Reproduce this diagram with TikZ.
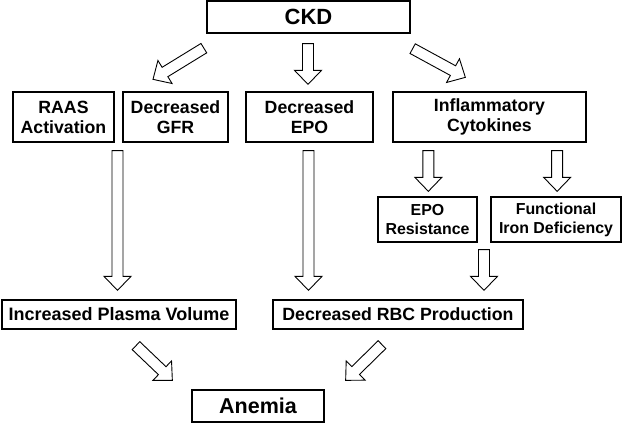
\documentclass[tikz,border=0pt]{standalone}
\usepackage{fontspec}
\setmainfont{Liberation Sans}
\usetikzlibrary{calc}
\tikzset{
  box/.style={draw, line width=1.3pt, inner sep=0pt, align=center,
    font=\bfseries\fontsize{17.7}{20}\selectfont},
  bigbox/.style={box, font=\bfseries\fontsize{22}{24}\selectfont},
  smallbox/.style={box, font=\bfseries\fontsize{15.9}{19}\selectfont},
  barrow/.style={draw=black, fill=white, line width=0.9pt, line join=miter,
    to path={let \p1=(\tikztostart), \p2=(\tikztotarget),
      \n1={atan2(\y2-\y1,\x2-\x1)}, \n2={veclen(\x2-\x1,\y2-\y1)-14} in
      ($(\p1)+({\n1+90}:5.5)$) -- ($(\p1)+(\n1:\n2)+({\n1+90}:5.5)$)
      -- ($(\p1)+(\n1:\n2)+({\n1+90}:13.5)$) -- (\p2)
      -- ($(\p1)+(\n1:\n2)+({\n1-90}:13.5)$) -- ($(\p1)+(\n1:\n2)+({\n1-90}:5.5)$)
      -- ($(\p1)+({\n1-90}:5.5)$) -- cycle}}
}
\begin{document}
\begin{tikzpicture}[x=1pt,y=1pt]
\fill[white] (0,0) rectangle (622,-423);
\useasboundingbox (0,0) rectangle (622,-423);

\node[bigbox, minimum width=203, minimum height=32] (ckd) at (308.5,-17) {CKD};
\node[box, minimum width=101, minimum height=50] (raas) at (63.5,-117) {RAAS\\Activation};
\node[box, minimum width=105, minimum height=50] (gfr) at (175.5,-117) {Decreased\\GFR};
\node[box, minimum width=127, minimum height=50] (depo) at (309.5,-117) {Decreased\\EPO};
\node[box, minimum width=193, minimum height=50] (infl) at (489.5,-117) {Inflammatory\\Cytokines};
\node[smallbox, minimum width=99, minimum height=45] (epores) at (427.5,-219.5) {EPO\\Resistance};
\node[smallbox, minimum width=130, minimum height=45] (fid) at (556,-219.5) {Functional\\Iron Deficiency};
\node[box, font=\bfseries\fontsize{18}{20}\selectfont, minimum width=234, minimum height=29] (ipv) at (119,-314.5) {Increased Plasma Volume};
\node[box, minimum width=250, minimum height=29] (rbc) at (398,-314.5) {Decreased RBC Production};
\node[bigbox, font=\bfseries\fontsize{21.5}{24}\selectfont, minimum width=132, minimum height=32] (anemia) at (258,-406) {Anemia};

\coordinate (c1) at ($(ckd.south west)+(-2.5,-14.5)$);
\coordinate (h1) at ($(gfr.north)+(-22.5,12)$);
\coordinate (c2) at ($(ckd.south)+(-0.5,-10)$);
\coordinate (h2) at ($(depo.north)+(-1.5,7)$);
\coordinate (c3) at ($(ckd.south east)+(2,-15)$);
\coordinate (h3) at ($(infl.north west)+(73,14)$);
\coordinate (c4) at ($(raas.south east)!0.5!(gfr.south west)+(-1,-8)$);
\coordinate (h4) at ($(c4|-ipv.north)+(0,9)$);
\coordinate (c5) at ($(depo.south)+(-1,-8)$);
\coordinate (h5) at ($(c5|-rbc.north)+(0,9)$);
\coordinate (c6) at ($(infl.south west)+(36,-8)$);
\coordinate (h6) at ($(c6|-epores.north)+(0,5)$);
\coordinate (c7) at ($(infl.south east)+(-29.5,-8)$);
\coordinate (h7) at ($(c7|-fid.north)+(0,5)$);
\coordinate (c8) at ($(epores.south east)!0.5!(fid.south west)+(0,-7)$);
\coordinate (h8) at ($(c8|-rbc.north)+(0,9)$);
\coordinate (c9) at ($(ipv.south)+(17,-16)$);
\coordinate (h9) at ($(anemia.north west)+(-19,9)$);
\coordinate (c10) at ($(rbc.south)+(-16,-15)$);
\coordinate (h10) at ($(anemia.north east)+(21,9)$);

\foreach \i in {1,...,10} {
  \draw[barrow] (c\i) to (h\i);
}
\end{tikzpicture}
\end{document}
